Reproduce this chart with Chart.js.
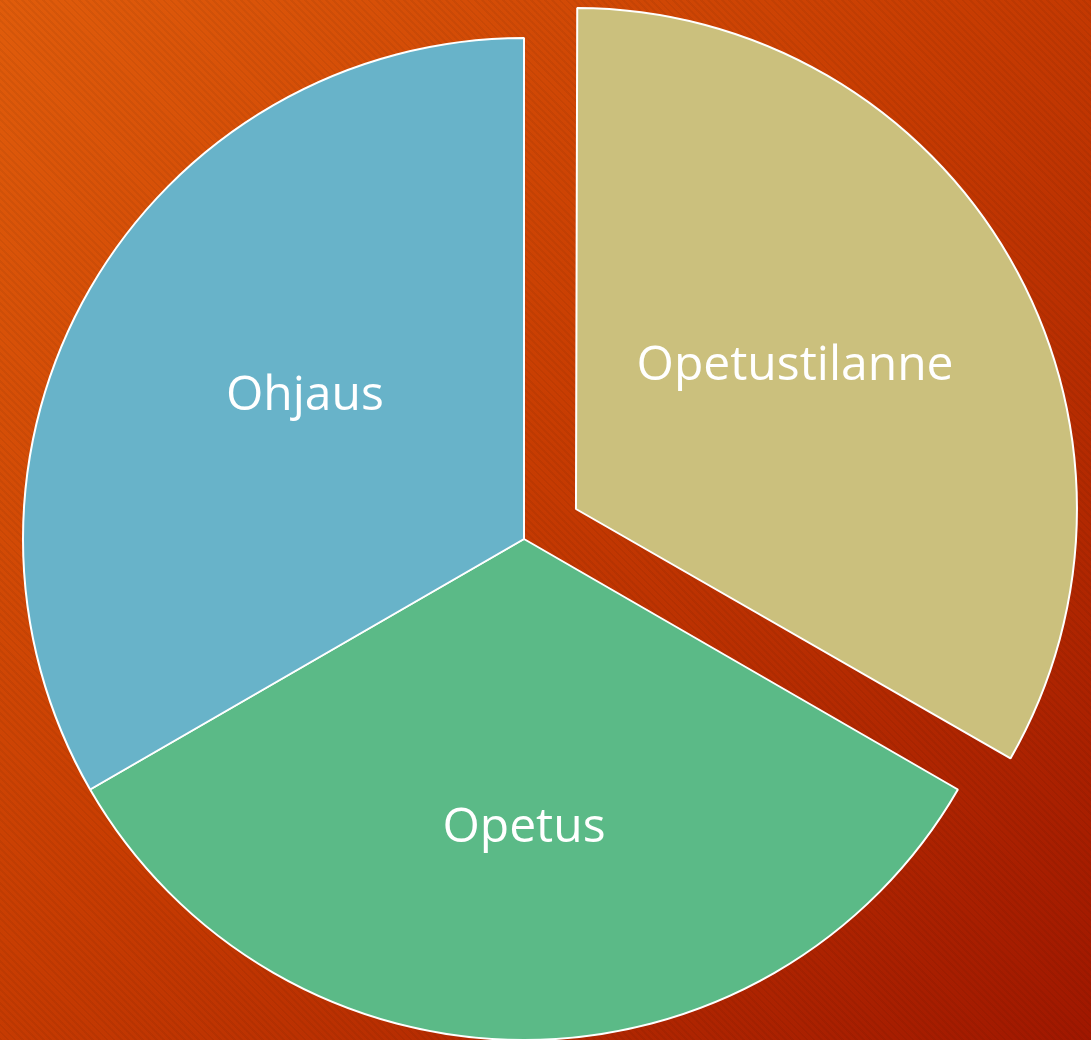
<!DOCTYPE html>
<html>
<head>
<meta charset="utf-8">
<script src="https://cdn.jsdelivr.net/npm/chart.js@4"></script>
<style>
    html, body { margin: 0; padding: 0; }
    body {
        width: 1091px;
        height: 1040px;
        overflow: hidden;
        background:
            repeating-linear-gradient(45deg, rgba(0, 0, 0, 0.05) 0px, rgba(0, 0, 0, 0.05) 2px, rgba(255, 255, 255, 0) 2px, rgba(255, 255, 255, 0) 5px),
            linear-gradient(135deg, #e05c0b 0%, #c83d02 45%, #a01700 100%);
    }
    canvas { display: block; }
</style>
</head>
<body>
<canvas id="chart" width="1091" height="1040"></canvas>
<script>
const LABELS = ['Opetustilanne', 'Opetus', 'Ohjaus'];
const VALUES = [1, 1, 1];
const COLORS = ['#cbc07d', '#5bba87', '#68b3c9'];
const EXPLODE = [60, 0, 0]; // pixels the slice is pulled out

// Chart.js v4 arcs are moved by offset / 4
const ARC_OFFSETS = EXPLODE.map(px => px * 4);

// v4 also grows an offset arc by offset/4 * (1 - sin(circumference)); undo that
const keepRadius = {
    id: 'keepRadius',
    beforeDatasetsDraw(chart) {
        chart.getDatasetMeta(0).data.forEach((arc, i) => {
            const grow = EXPLODE[i] * (1 - Math.sin(Math.min(Math.PI, arc.circumference)));
            if (!arc._baseRadius) arc._baseRadius = arc.outerRadius;
            arc.outerRadius = arc._baseRadius - grow;
        });
    }
};

// white labels inside each slice, placed from the arc geometry
const sliceLabels = {
    id: 'sliceLabels',
    afterDatasetsDraw(chart) {
        const ctx = chart.ctx;
        const meta = chart.getDatasetMeta(0);
        ctx.save();
        ctx.fillStyle = '#ffffff';
        ctx.font = '48px "Open Sans", Lato, sans-serif';
        ctx.textAlign = 'center';
        ctx.textBaseline = 'middle';
        meta.data.forEach((arc, i) => {
            const p = arc.getProps(['x', 'y', 'startAngle', 'endAngle'], true);
            const r = arc._baseRadius || arc.outerRadius;
            const mid = (p.startAngle + p.endAngle) / 2;
            const dx = Math.cos(mid), dy = Math.sin(mid);
            const d = EXPLODE[i] + r * 0.575;
            const x = p.x + dx * d - dx * r * 0.07;
            const y = p.y + dy * d + 1;
            ctx.fillText(LABELS[i], x, y);
        });
        ctx.restore();
    }
};

new Chart(document.getElementById('chart').getContext('2d'), {
    type: 'pie',
    data: {
        labels: LABELS,
        datasets: [{
            data: VALUES,
            backgroundColor: COLORS,
            borderColor: '#ffffff',
            borderWidth: 2,
            offset: ARC_OFFSETS,
            clip: false,
        }]
    },
    options: {
        responsive: false,
        animation: false,
        radius: 501,
        layout: { padding: { top: 38, left: 0, right: 43, bottom: 0 } },
        plugins: {
            legend: { display: false },
            tooltip: { enabled: false }
        }
    },
    plugins: [keepRadius, sliceLabels]
});
</script>
</body>
</html>
